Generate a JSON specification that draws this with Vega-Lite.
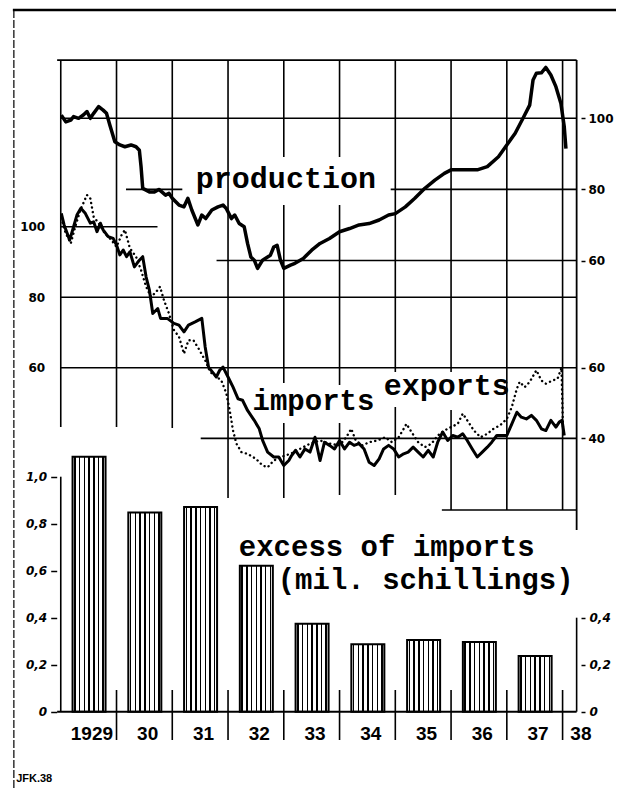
{
  "$schema": "https://vega.github.io/schema/vega-lite/v6.json",
  "width": 621,
  "height": 790,
  "autosize": {"type": "none"},
  "padding": 0,
  "background": "white",
  "data": {"values": [{}]},
  "config": {
    "view": {"stroke": null},
    "axis": {"grid": false, "labelColor": "#000", "tickColor": "#000", "tickWidth": 1.5, "labelFont": "DejaVu Sans", "labelFontWeight": "bold", "labelFontSize": 12}
  },
  "datasets": {
    "prod": [
      {"t":1929.01,"v":100.9},{"t":1929.09,"v":99.0},{"t":1929.18,"v":99.5},{"t":1929.23,"v":100.5},{"t":1929.32,"v":100.0},
      {"t":1929.41,"v":101.0},{"t":1929.47,"v":101.9},{"t":1929.53,"v":100.0},{"t":1929.59,"v":101.4},{"t":1929.68,"v":103.3},
      {"t":1929.76,"v":102.3},{"t":1929.82,"v":101.4},{"t":1929.88,"v":98.1},{"t":1929.97,"v":93.4},{"t":1930.06,"v":92.5},
      {"t":1930.15,"v":92.0},{"t":1930.26,"v":92.5},{"t":1930.35,"v":92.0},{"t":1930.41,"v":91.0},{"t":1930.44,"v":86.4},
      {"t":1930.47,"v":80.3},{"t":1930.59,"v":79.3},{"t":1930.68,"v":79.3},{"t":1930.76,"v":80.0},{"t":1930.88,"v":78.4},
      {"t":1930.94,"v":78.9},{"t":1931.0,"v":77.5},{"t":1931.12,"v":75.6},{"t":1931.21,"v":75.1},{"t":1931.28,"v":77.5},
      {"t":1931.35,"v":74.2},{"t":1931.46,"v":70.0},{"t":1931.53,"v":72.8},{"t":1931.6,"v":71.8},{"t":1931.71,"v":74.2},
      {"t":1931.82,"v":75.1},{"t":1931.91,"v":75.6},{"t":1931.97,"v":74.6},{"t":1932.06,"v":71.8},{"t":1932.12,"v":72.8},
      {"t":1932.2,"v":70.4},{"t":1932.29,"v":69.5},{"t":1932.35,"v":64.8},{"t":1932.41,"v":61.0},{"t":1932.47,"v":60.1},
      {"t":1932.53,"v":57.8},{"t":1932.62,"v":60.1},{"t":1932.71,"v":61.0},{"t":1932.76,"v":61.5},{"t":1932.82,"v":63.8},
      {"t":1932.88,"v":64.3},{"t":1932.94,"v":60.1},{"t":1933.0,"v":57.8},{"t":1933.12,"v":58.7},{"t":1933.2,"v":59.2},
      {"t":1933.35,"v":60.6},{"t":1933.5,"v":62.9},{"t":1933.65,"v":64.8},{"t":1933.82,"v":66.2},{"t":1934.0,"v":68.1},
      {"t":1934.18,"v":69.0},{"t":1934.35,"v":70.0},{"t":1934.53,"v":70.4},{"t":1934.71,"v":71.4},{"t":1934.88,"v":72.8},
      {"t":1935.0,"v":73.2},{"t":1935.18,"v":75.1},{"t":1935.35,"v":77.5},{"t":1935.53,"v":80.3},{"t":1935.71,"v":82.6},
      {"t":1935.88,"v":84.5},{"t":1936.0,"v":85.5},{"t":1936.29,"v":85.5},{"t":1936.47,"v":85.5},{"t":1936.65,"v":86.4},
      {"t":1936.85,"v":89.2},{"t":1937.0,"v":92.5},{"t":1937.15,"v":95.8},{"t":1937.29,"v":100.0},{"t":1937.41,"v":103.7},
      {"t":1937.47,"v":110.8},{"t":1937.53,"v":112.7},{"t":1937.62,"v":112.8},{"t":1937.7,"v":114.3},{"t":1937.79,"v":112.2},
      {"t":1937.88,"v":108.9},{"t":1937.97,"v":104.2},{"t":1938.03,"v":97.6},{"t":1938.06,"v":91.5}
    ],
    "imp": [
      {"t":1929.01,"v":103.8},{"t":1929.06,"v":100.5},{"t":1929.16,"v":96.2},{"t":1929.23,"v":100.0},{"t":1929.29,"v":103.3},
      {"t":1929.36,"v":105.2},{"t":1929.44,"v":103.8},{"t":1929.53,"v":101.0},{"t":1929.59,"v":101.4},{"t":1929.65,"v":98.6},
      {"t":1929.71,"v":101.0},{"t":1929.76,"v":99.1},{"t":1929.85,"v":97.2},{"t":1929.94,"v":96.7},{"t":1930.0,"v":94.8},
      {"t":1930.06,"v":92.0},{"t":1930.12,"v":93.4},{"t":1930.18,"v":91.5},{"t":1930.24,"v":92.9},{"t":1930.32,"v":88.6},
      {"t":1930.41,"v":90.5},{"t":1930.47,"v":91.5},{"t":1930.53,"v":85.8},{"t":1930.59,"v":82.0},{"t":1930.65,"v":75.4},
      {"t":1930.74,"v":76.8},{"t":1930.79,"v":74.0},{"t":1930.91,"v":74.0},{"t":1931.03,"v":72.6},{"t":1931.12,"v":72.1},
      {"t":1931.21,"v":70.2},{"t":1931.29,"v":72.1},{"t":1931.41,"v":73.0},{"t":1931.53,"v":74.0},{"t":1931.59,"v":65.9},
      {"t":1931.65,"v":60.2},{"t":1931.74,"v":58.4},{"t":1931.79,"v":57.4},{"t":1931.85,"v":59.3},{"t":1931.91,"v":60.2},
      {"t":1932.0,"v":57.4},{"t":1932.09,"v":54.5},{"t":1932.18,"v":51.2},{"t":1932.26,"v":50.8},{"t":1932.35,"v":47.9},
      {"t":1932.47,"v":45.1},{"t":1932.56,"v":42.7},{"t":1932.62,"v":39.4},{"t":1932.71,"v":36.1},{"t":1932.82,"v":34.7},
      {"t":1932.91,"v":34.7},{"t":1933.0,"v":32.3},{"t":1933.09,"v":33.7},{"t":1933.14,"v":35.1},{"t":1933.21,"v":36.6},
      {"t":1933.29,"v":34.7},{"t":1933.38,"v":37.0},{"t":1933.47,"v":36.1},{"t":1933.56,"v":40.3},{"t":1933.65,"v":33.7},
      {"t":1933.73,"v":38.9},{"t":1933.82,"v":38.0},{"t":1933.91,"v":37.0},{"t":1934.0,"v":39.4},{"t":1934.09,"v":37.0},
      {"t":1934.18,"v":38.9},{"t":1934.26,"v":38.0},{"t":1934.35,"v":38.5},{"t":1934.44,"v":37.0},{"t":1934.53,"v":33.2},
      {"t":1934.62,"v":32.3},{"t":1934.71,"v":34.2},{"t":1934.79,"v":37.0},{"t":1934.88,"v":38.0},{"t":1934.97,"v":37.0},
      {"t":1935.06,"v":34.7},{"t":1935.15,"v":35.6},{"t":1935.23,"v":36.1},{"t":1935.32,"v":37.5},{"t":1935.41,"v":36.1},
      {"t":1935.5,"v":34.7},{"t":1935.59,"v":36.6},{"t":1935.68,"v":34.7},{"t":1935.76,"v":38.9},{"t":1935.85,"v":41.8},
      {"t":1935.94,"v":39.4},{"t":1936.03,"v":40.8},{"t":1936.12,"v":40.3},{"t":1936.21,"v":41.3},{"t":1936.29,"v":39.4},
      {"t":1936.38,"v":37.0},{"t":1936.47,"v":34.7},{"t":1936.56,"v":36.1},{"t":1936.65,"v":37.5},{"t":1936.73,"v":38.9},
      {"t":1936.82,"v":40.8},{"t":1937.0,"v":40.8},{"t":1937.09,"v":44.1},{"t":1937.18,"v":47.4},{"t":1937.26,"v":46.0},
      {"t":1937.35,"v":45.5},{"t":1937.44,"v":46.5},{"t":1937.53,"v":45.1},{"t":1937.62,"v":42.7},{"t":1937.7,"v":42.2},
      {"t":1937.79,"v":45.1},{"t":1937.88,"v":43.2},{"t":1937.94,"v":44.6},{"t":1937.99,"v":45.1},{"t":1938.03,"v":40.8}
    ],
    "exp": [
      {"t":1929.01,"v":102.4},{"t":1929.09,"v":98.1},{"t":1929.18,"v":95.3},{"t":1929.26,"v":100.0},{"t":1929.35,"v":104.7},
      {"t":1929.47,"v":109.0},{"t":1929.53,"v":108.0},{"t":1929.59,"v":102.8},{"t":1929.68,"v":101.0},{"t":1929.79,"v":98.1},
      {"t":1929.91,"v":96.2},{"t":1930.0,"v":94.3},{"t":1930.09,"v":97.6},{"t":1930.15,"v":99.1},{"t":1930.24,"v":93.9},
      {"t":1930.35,"v":91.5},{"t":1930.44,"v":87.7},{"t":1930.53,"v":83.0},{"t":1930.62,"v":80.1},{"t":1930.71,"v":81.5},
      {"t":1930.78,"v":83.0},{"t":1930.85,"v":79.2},{"t":1930.94,"v":75.4},{"t":1931.03,"v":70.7},{"t":1931.12,"v":68.8},
      {"t":1931.21,"v":64.0},{"t":1931.29,"v":67.8},{"t":1931.38,"v":67.8},{"t":1931.47,"v":65.5},{"t":1931.59,"v":62.1},
      {"t":1931.68,"v":58.8},{"t":1931.76,"v":57.9},{"t":1931.88,"v":56.4},{"t":1931.97,"v":52.7},{"t":1932.03,"v":47.9},
      {"t":1932.09,"v":42.2},{"t":1932.15,"v":38.5},{"t":1932.24,"v":36.1},{"t":1932.35,"v":35.6},{"t":1932.5,"v":34.2},
      {"t":1932.62,"v":32.3},{"t":1932.71,"v":31.8},{"t":1932.82,"v":33.7},{"t":1932.94,"v":34.7},{"t":1933.12,"v":35.6},
      {"t":1933.29,"v":37.0},{"t":1933.47,"v":38.5},{"t":1933.65,"v":39.4},{"t":1933.82,"v":38.5},{"t":1934.0,"v":38.0},
      {"t":1934.12,"v":40.3},{"t":1934.21,"v":42.7},{"t":1934.29,"v":39.4},{"t":1934.41,"v":38.0},{"t":1934.53,"v":38.9},
      {"t":1934.68,"v":39.4},{"t":1934.82,"v":40.3},{"t":1934.94,"v":38.9},{"t":1935.06,"v":40.3},{"t":1935.15,"v":42.7},
      {"t":1935.2,"v":44.1},{"t":1935.29,"v":41.8},{"t":1935.41,"v":38.9},{"t":1935.53,"v":37.5},{"t":1935.65,"v":38.5},
      {"t":1935.76,"v":40.8},{"t":1935.88,"v":42.2},{"t":1936.0,"v":43.2},{"t":1936.12,"v":44.1},{"t":1936.21,"v":47.0},
      {"t":1936.29,"v":45.1},{"t":1936.41,"v":42.2},{"t":1936.53,"v":40.3},{"t":1936.65,"v":41.3},{"t":1936.76,"v":42.7},
      {"t":1936.88,"v":43.7},{"t":1937.0,"v":45.5},{"t":1937.09,"v":48.9},{"t":1937.18,"v":54.1},{"t":1937.23,"v":56.0},
      {"t":1937.32,"v":54.5},{"t":1937.41,"v":56.0},{"t":1937.53,"v":59.3},{"t":1937.62,"v":56.4},{"t":1937.7,"v":55.5},
      {"t":1937.82,"v":56.4},{"t":1937.91,"v":56.9},{"t":1937.98,"v":60.0},{"t":1938.01,"v":41.5}
    ],
    "bars": [
      {"year":1929,"v":1.085},{"year":1930,"v":0.848},{"year":1931,"v":0.871},{"year":1932,"v":0.621},{"year":1933,"v":0.374},
      {"year":1934,"v":0.287},{"year":1935,"v":0.305},{"year":1936,"v":0.297},{"year":1937,"v":0.237}
    ],
    "bounds": [
      {"b":1930},{"b":1931},{"b":1932},{"b":1933},{"b":1934},{"b":1935},{"b":1936},{"b":1937},{"b":1938}
    ]
  },
  "layer": [
    {
      "layer": [
        {
          "data": {"name": "prod"},
          "mark": {"type": "line", "color": "#000", "strokeWidth": 3.5, "strokeJoin": "round"},
          "encoding": {
            "x": {"field": "t", "type": "quantitative",
              "scale": {"domain": [1928, 1938.958], "nice": false, "zero": false},
              "axis": {"orient": "bottom", "offset": -78, "title": null, "domain": false, "ticks": false, "tickSize": 0, "labelPadding": 12,
                "values": [1929.55, 1930.55, 1931.55, 1932.55, 1933.55, 1934.55, 1935.55, 1936.55, 1937.55, 1938.32],
                "labelExpr": "datum.value < 1930 ? '1929' : slice(toString(floor(datum.value)), 2)",
                "labelFont": "Liberation Sans", "labelFontWeight": "bold", "labelFontSize": 19, "labelBaseline": "top"}},
            "y": {"field": "v", "type": "quantitative",
              "scale": {"domain": [-88.94, 133.28], "nice": false, "zero": false},
              "axis": {"orient": "right", "offset": -40, "title": null, "values": [60, 80, 100], "domain": false, "ticks": true, "tickSize": 4, "labelPadding": 3}}
          }
        },
        {"mark": {"type": "rule", "color": "#000", "strokeWidth": 1.6}, "encoding": {"x": {"datum": 1929}, "x2": {"datum": 1938.252}, "y": {"datum": 100}}},
        {"mark": {"type": "rule", "color": "#000", "strokeWidth": 1.6}, "encoding": {"x": {"datum": 1930.17}, "x2": {"datum": 1931.18}, "y": {"datum": 80}}},
        {"mark": {"type": "rule", "color": "#000", "strokeWidth": 1.6}, "encoding": {"x": {"datum": 1934.917}, "x2": {"datum": 1938.252}, "y": {"datum": 80}}},
        {"mark": {"type": "rule", "color": "#000", "strokeWidth": 1.6}, "encoding": {"x": {"datum": 1931.794}, "x2": {"datum": 1938.252}, "y": {"datum": 60}}},
        {"mark": {"type": "text", "text": "production", "font": "Liberation Mono", "fontWeight": "bold", "fontSize": 30, "align": "left", "baseline": "alphabetic", "color": "#000"},
          "encoding": {"x": {"datum": 1931.423}, "y": {"datum": 80.3}}}
      ]
    },
    {
      "layer": [
        {
          "data": {"name": "imp"},
          "mark": {"type": "line", "color": "#000", "strokeWidth": 3, "strokeJoin": "round"},
          "encoding": {
            "x": {"field": "t", "type": "quantitative"},
            "y": {"field": "v", "type": "quantitative",
              "scale": {"domain": [-59.71, 164.28], "nice": false, "zero": false},
              "axis": {"orient": "left", "offset": -56.7, "title": null, "values": [60, 80, 100], "domain": false, "ticks": false, "tickSize": 0, "labelPadding": 12}}
          }
        },
        {
          "data": {"name": "exp"},
          "mark": {"type": "line", "color": "#000", "strokeWidth": 2.4, "strokeDash": [0.1, 4.5], "strokeCap": "round"},
          "encoding": {"x": {"field": "t", "type": "quantitative"}, "y": {"field": "v", "type": "quantitative"}}
        }
      ]
    },
    {
      "layer": [
        {"mark": {"type": "rule", "color": "#000", "strokeWidth": 1.8},
          "encoding": {"x": {"datum": 1928.935}, "x2": {"datum": 1938.252},
            "y": {"datum": 147.26, "scale": {"domain": [-59.71, 164.28], "nice": false, "zero": false},
              "axis": {"orient": "right", "offset": -40, "title": null, "values": [40, 60], "domain": false, "ticks": true, "tickSize": 4, "labelPadding": 3}}}},
        {"mark": {"type": "rule", "color": "#000", "strokeWidth": 2.5}, "encoding": {"x": {"datum": 1928.141}, "x2": {"datum": 1938.958}, "y": {"datum": 161.44}}},
        {"mark": {"type": "rule", "color": "#000", "strokeWidth": 1.2, "strokeDash": [8, 2]}, "encoding": {"x": {"datum": 1928.159}, "y": {"datum": 161.44}, "y2": {"datum": -59.71}}},
        {"mark": {"type": "rule", "color": "#000", "strokeWidth": 1.6}, "encoding": {"x": {"datum": 1929}, "x2": {"datum": 1930.735}, "y": {"datum": 100}}},
        {"mark": {"type": "rule", "color": "#000", "strokeWidth": 1.6}, "encoding": {"x": {"datum": 1929}, "x2": {"datum": 1938.252}, "y": {"datum": 80}}},
        {"mark": {"type": "rule", "color": "#000", "strokeWidth": 1.6}, "encoding": {"x": {"datum": 1929}, "x2": {"datum": 1938.252}, "y": {"datum": 60}}},
        {"mark": {"type": "rule", "color": "#000", "strokeWidth": 1.6}, "encoding": {"x": {"datum": 1931.51}, "x2": {"datum": 1938.252}, "y": {"datum": 40}}},
        {"mark": {"type": "rule", "color": "#000", "strokeWidth": 1.6}, "encoding": {"x": {"datum": 1935.835}, "x2": {"datum": 1938.252}, "y": {"datum": 19.7}}},
        {"mark": {"type": "rule", "color": "#000", "strokeWidth": 1.6}, "encoding": {"x": {"datum": 1929}, "y": {"datum": 147.26}, "y2": {"datum": 43.21}}},
        {"mark": {"type": "rule", "color": "#000", "strokeWidth": 1.6}, "encoding": {"x": {"datum": 1930}, "y": {"datum": 147.26}, "y2": {"datum": 43.21}}},
        {"mark": {"type": "rule", "color": "#000", "strokeWidth": 1.6}, "encoding": {"x": {"datum": 1931}, "y": {"datum": 147.26}, "y2": {"datum": 42.93}}},
        {"mark": {"type": "rule", "color": "#000", "strokeWidth": 1.6}, "encoding": {"x": {"datum": 1932}, "y": {"datum": 147.26}, "y2": {"datum": 23.08}}},
        {"mark": {"type": "rule", "color": "#000", "strokeWidth": 1.6}, "encoding": {"x": {"datum": 1933}, "y": {"datum": 147.26}, "y2": {"datum": 119.76}}},
        {"mark": {"type": "rule", "color": "#000", "strokeWidth": 1.6}, "encoding": {"x": {"datum": 1933}, "y": {"datum": 106.15}, "y2": {"datum": 55.68}}},
        {"mark": {"type": "rule", "color": "#000", "strokeWidth": 1.6}, "encoding": {"x": {"datum": 1933}, "y": {"datum": 44.34}, "y2": {"datum": 23.08}}},
        {"mark": {"type": "rule", "color": "#000", "strokeWidth": 1.6}, "encoding": {"x": {"datum": 1934}, "y": {"datum": 147.26}, "y2": {"datum": 119.76}}},
        {"mark": {"type": "rule", "color": "#000", "strokeWidth": 1.6}, "encoding": {"x": {"datum": 1934}, "y": {"datum": 106.15}, "y2": {"datum": 55.12}}},
        {"mark": {"type": "rule", "color": "#000", "strokeWidth": 1.6}, "encoding": {"x": {"datum": 1934}, "y": {"datum": 44.34}, "y2": {"datum": 23.93}}},
        {"mark": {"type": "rule", "color": "#000", "strokeWidth": 1.6}, "encoding": {"x": {"datum": 1935}, "y": {"datum": 147.26}, "y2": {"datum": 58.8}}},
        {"mark": {"type": "rule", "color": "#000", "strokeWidth": 1.6}, "encoding": {"x": {"datum": 1935}, "y": {"datum": 48.88}, "y2": {"datum": 23.93}}},
        {"mark": {"type": "rule", "color": "#000", "strokeWidth": 1.6}, "encoding": {"x": {"datum": 1936}, "y": {"datum": 147.26}, "y2": {"datum": 58.8}}},
        {"mark": {"type": "rule", "color": "#000", "strokeWidth": 1.6}, "encoding": {"x": {"datum": 1936}, "y": {"datum": 48.03}, "y2": {"datum": 19.68}}},
        {"mark": {"type": "rule", "color": "#000", "strokeWidth": 1.6}, "encoding": {"x": {"datum": 1937}, "y": {"datum": 147.26}, "y2": {"datum": 19.68}}},
        {"mark": {"type": "rule", "color": "#000", "strokeWidth": 1.6}, "encoding": {"x": {"datum": 1938}, "y": {"datum": 147.26}, "y2": {"datum": 19.68}}},
        {"mark": {"type": "rule", "color": "#000", "strokeWidth": 1.8}, "encoding": {"x": {"datum": 1938.252}, "y": {"datum": 147.26}, "y2": {"datum": 14.01}}},
        {"mark": {"type": "text", "text": "imports", "font": "Liberation Mono", "fontWeight": "bold", "fontSize": 29, "align": "left", "baseline": "alphabetic", "color": "#000"},
          "encoding": {"x": {"datum": 1932.44}, "y": {"datum": 48.03}}},
        {"mark": {"type": "text", "text": "exports", "font": "Liberation Mono", "fontWeight": "bold", "fontSize": 30, "align": "left", "baseline": "alphabetic", "color": "#000"},
          "encoding": {"x": {"datum": 1934.794}, "y": {"datum": 52.28}}}
      ]
    },
    {
      "layer": [
        {
          "data": {"name": "bars"},
          "mark": {"type": "bar", "width": 33, "xOffset": 28.3, "stroke": "#000", "strokeWidth": 2,
            "fill": {"gradient": "linear", "x1": 0, "y1": 0, "x2": 1, "y2": 0, "stops": [
              {"offset": 0, "color": "#fff"}, {"offset": 0.049, "color": "#fff"}, {"offset": 0.049, "color": "#000"}, {"offset": 0.093, "color": "#000"},
              {"offset": 0.093, "color": "#fff"}, {"offset": 0.192, "color": "#fff"}, {"offset": 0.192, "color": "#000"}, {"offset": 0.236, "color": "#000"},
              {"offset": 0.236, "color": "#fff"}, {"offset": 0.335, "color": "#fff"}, {"offset": 0.335, "color": "#000"}, {"offset": 0.379, "color": "#000"},
              {"offset": 0.379, "color": "#fff"}, {"offset": 0.478, "color": "#fff"}, {"offset": 0.478, "color": "#000"}, {"offset": 0.522, "color": "#000"},
              {"offset": 0.522, "color": "#fff"}, {"offset": 0.621, "color": "#fff"}, {"offset": 0.621, "color": "#000"}, {"offset": 0.665, "color": "#000"},
              {"offset": 0.665, "color": "#fff"}, {"offset": 0.764, "color": "#fff"}, {"offset": 0.764, "color": "#000"}, {"offset": 0.808, "color": "#000"},
              {"offset": 0.808, "color": "#fff"}, {"offset": 0.906, "color": "#fff"}, {"offset": 0.906, "color": "#000"}, {"offset": 0.95, "color": "#000"},
              {"offset": 0.95, "color": "#fff"}, {"offset": 1, "color": "#fff"}]}},
          "encoding": {
            "x": {"field": "year", "type": "quantitative"},
            "y": {"field": "v", "type": "quantitative",
              "scale": {"domain": [-0.3332, 3.0285], "nice": false, "zero": false},
              "axis": {"orient": "left", "offset": -56.7, "title": null, "values": [0, 0.2, 0.4, 0.6, 0.8, 1.0], "domain": false, "ticks": true, "tickSize": 6, "labelPadding": 4,
                "labelFontStyle": "italic", "labelExpr": "datum.value == 0 ? '0' : replace(format(datum.value, '.1f'), '.', ',')"}},
            "y2": {"datum": 0}
          }
        }
      ]
    },
    {
      "layer": [
        {"mark": {"type": "rule", "color": "#000", "strokeWidth": 2},
          "encoding": {"x": {"datum": 1928.935}, "x2": {"datum": 1938.252},
            "y": {"datum": 0, "scale": {"domain": [-0.3332, 3.0285], "nice": false, "zero": false},
              "axis": {"orient": "right", "offset": -40, "title": null, "values": [0, 0.2, 0.4], "domain": false, "ticks": true, "tickSize": 4, "labelPadding": 4,
                "labelFontStyle": "italic", "labelExpr": "datum.value == 0 ? '0' : replace(format(datum.value, '.1f'), '.', ',')"}}}},
        {"data": {"name": "bounds"}, "mark": {"type": "rule", "color": "#000", "strokeWidth": 1.6},
          "encoding": {"x": {"field": "b", "type": "quantitative"}, "y": {"datum": 0.0923}, "y2": {"datum": -0.1204}}},
        {"mark": {"type": "rule", "color": "#000", "strokeWidth": 1.6}, "encoding": {"x": {"datum": 1929}, "y": {"datum": 0}, "y2": {"datum": 1.0}}},
        {"mark": {"type": "rule", "color": "#000", "strokeWidth": 1.6}, "encoding": {"x": {"datum": 1938.252}, "y": {"datum": 0}, "y2": {"datum": 0.4}}},
        {"mark": {"type": "text", "text": "excess of imports", "font": "Liberation Mono", "fontWeight": "bold", "fontSize": 29, "align": "left", "baseline": "alphabetic", "color": "#000"},
          "encoding": {"x": {"datum": 1932.193}, "y": {"datum": 0.661}}},
        {"mark": {"type": "text", "text": "(mil. schillings)", "font": "Liberation Mono", "fontWeight": "bold", "fontSize": 29, "align": "left", "baseline": "alphabetic", "color": "#000"},
          "encoding": {"x": {"datum": 1932.891}, "y": {"datum": 0.52}}},
        {"mark": {"type": "text", "text": "JFK.38", "font": "Liberation Sans Narrow, Liberation Sans", "fontWeight": "bold", "fontSize": 11, "align": "left", "baseline": "alphabetic", "color": "#000"},
          "encoding": {"x": {"datum": 1928.2}, "y": {"datum": -0.299}}}
      ]
    }
  ],
  "resolve": {"scale": {"y": "independent"}, "axis": {"y": "independent"}}
}
